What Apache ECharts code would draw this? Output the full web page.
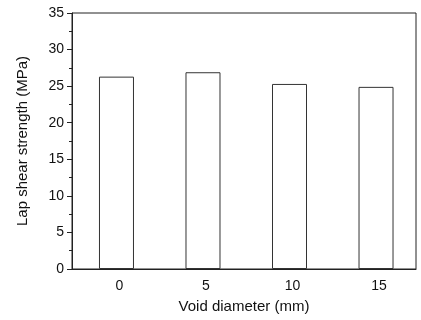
<!DOCTYPE html>
<html>
<head>
<meta charset="utf-8">
<script src="https://cdn.jsdelivr.net/npm/echarts@6/dist/echarts.min.js"></script>
<style>html,body{margin:0;padding:0;background:#fff;}#c{width:421px;height:320px;}</style>
</head>
<body>
<div id="c"></div>
<script>
var voidDiameters = [0, 5, 10, 15];
var shearStrength = [26.3, 26.9, 25.3, 24.9];
var yTicks = [0, 5, 10, 15, 20, 25, 30, 35];

var chart = echarts.init(document.getElementById('c'), null, {renderer: 'canvas'});
var font = 'Liberation Sans, Arial, Helvetica, sans-serif';
chart.setOption({
  animation: false,
  backgroundColor: '#fff',
  grid: {left: 72, top: 13, right: 5, bottom: 51, show: true, borderColor: '#222', borderWidth: 1, backgroundColor: 'transparent'},
  xAxis: {
    type: 'value', min: -2.57, max: 17.31,
    name: 'Void diameter (mm)', nameLocation: 'middle', nameGap: 30,
    nameTextStyle: {fontFamily: font, fontSize: 15, color: '#111'},
    axisLine: {show: true, onZero: false, lineStyle: {color: '#222', width: 1}},
    axisTick: {show: false},
    splitLine: {show: false},
    axisLabel: {customValues: voidDiameters, fontFamily: font, fontSize: 14, color: '#111', margin: 10, padding: [0, 0, 0, 6]}
  },
  yAxis: {
    type: 'value', min: 0, max: 35, interval: 5,
    name: 'Lap shear strength (MPa)', nameLocation: 'middle', nameGap: 42, nameRotate: 90,
    nameTextStyle: {fontFamily: font, fontSize: 15, color: '#111'},
    axisLine: {show: true, onZero: false, lineStyle: {color: '#222', width: 1}},
    axisTick: {show: true, inside: false, length: 5, lineStyle: {color: '#222'}},
    minorTick: {show: true, splitNumber: 2, length: 3, lineStyle: {color: '#222'}},
    splitLine: {show: false},
    axisLabel: {fontFamily: font, fontSize: 14, color: '#111', margin: 8,
      formatter: function (v) { return yTicks.indexOf(v) >= 0 ? String(v) : ''; }}
  },
  series: [{
    type: 'bar',
    barWidth: 35,
    data: voidDiameters.map(function (d, i) { return [d, shearStrength[i]]; }),
    itemStyle: {color: '#fff', borderColor: '#333', borderWidth: 1}
  }]
});
</script>
</body>
</html>
